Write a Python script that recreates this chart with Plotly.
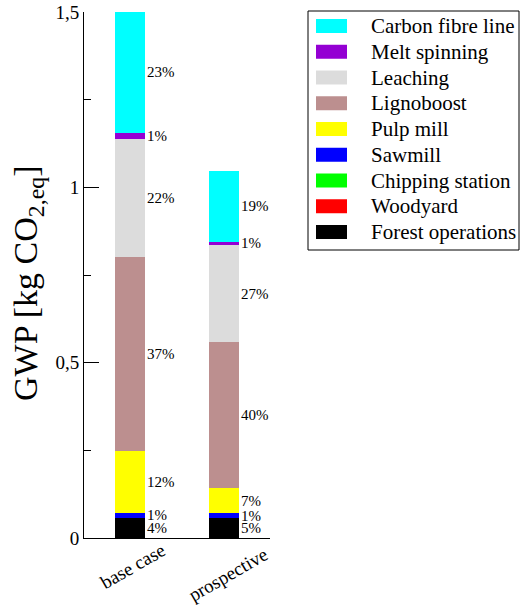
import plotly.graph_objects as go

# Global warming potential per process step, kg CO2-eq
cases = ["base case", "prospective"]
processes = ["Forest operations", "Woodyard", "Chipping station", "Sawmill",
             "Pulp mill", "Lignoboost", "Leaching", "Melt spinning", "Carbon fibre line"]
colors = ["#000000", "#FF0000", "#00FF00", "#0000FF",
          "#FFFF00", "#BC8F8F", "#DCDCDC", "#9400D3", "#00FFFF"]
base_case = [0.058, 0.0, 0.0, 0.014, 0.176, 0.553, 0.337, 0.017, 0.345]
prospective = [0.056, 0.0, 0.0, 0.014, 0.073, 0.415, 0.278, 0.009, 0.201]
y_ticks = [0, 0.5, 1, 1.5]
y_tick_text = ["0", "0,5", "1", "1,5"]

series = [base_case, prospective]
FONT = "Liberation Serif"
BAR_W = 0.32

fig = go.Figure()
for i, name in enumerate(processes):
    fig.add_trace(go.Bar(
        x=list(range(len(cases))), y=[s[i] for s in series], name=name,
        marker=dict(color=colors[i], line=dict(width=0)),
        width=BAR_W, showlegend=False,
    ))

# percentage share labels beside each segment
annotations = []
for ci, s in enumerate(series):
    total = sum(s)
    cum = 0.0
    for i, v in enumerate(s):
        if v > 0:
            pct = int(round(v / total * 100))
            annotations.append(dict(
                x=ci + BAR_W / 2, y=cum + v / 2, xref="x", yref="y",
                text=f"{pct}%", showarrow=False, xanchor="left", yanchor="middle",
                xshift=0, font=dict(family=FONT, size=15, color="#000"),
            ))
        cum += v

# pixel -> paper helpers for the plot frame
L, R, T, B = 84, 270, 12, 538
def px(x):
    return (x - L) / (R - L)
def py(y):
    return (B - y) / (B - T)

# slanted category labels under the bars
label_offsets = [(2, 566), (4, 574)]
for ci, name in enumerate(cases):
    dx, yc = label_offsets[ci]
    annotations.append(dict(
        x=ci, y=py(yc), xref="x", yref="paper", xshift=dx,
        text=name, textangle=-30, showarrow=False,
        xanchor="center", yanchor="middle",
        font=dict(family=FONT, size=19, color="#000"),
    ))

# y-axis title
annotations.append(dict(
    x=px(28), y=py(283), xref="paper", yref="paper",
    text="GWP [kg CO<sub>2,eq</sub>]", textangle=-90, showarrow=False,
    xanchor="center", yanchor="middle",
    font=dict(family=FONT, size=34, color="#000"),
))

# legend box, drawn top entry first
shapes = [dict(type="rect", xref="paper", yref="paper",
               x0=px(308), x1=px(519), y0=py(11), y1=py(250),
               line=dict(color="#000", width=1), fillcolor="white")]
legend_order = list(range(len(processes)))[::-1]
for row, i in enumerate(legend_order):
    yc = 26 + row * 25.75
    shapes.append(dict(type="rect", xref="paper", yref="paper",
                       x0=px(316), x1=px(347), y0=py(yc + 7), y1=py(yc - 7),
                       line=dict(width=0), fillcolor=colors[i]))
    annotations.append(dict(
        x=px(369), y=py(yc), xref="paper", yref="paper", text=processes[i],
        showarrow=False, xanchor="left", yanchor="middle",
        font=dict(family=FONT, size=21, color="#000"),
    ))

fig.update_layout(
    width=520, height=605,
    margin=dict(l=L, r=520 - R, t=T, b=605 - B, autoexpand=False),
    barmode="stack", bargap=0,
    plot_bgcolor="white", paper_bgcolor="white",
    separators=",.",
    font=dict(family=FONT, color="#000"),
    annotations=annotations, shapes=shapes,
    xaxis=dict(
        range=[-0.49, 1.49], showline=True, linecolor="#000", linewidth=1,
        showgrid=False, zeroline=False, ticks="", showticklabels=False,
        automargin=False,
    ),
    yaxis=dict(
        range=[0, 1.5], showline=True, linecolor="#000", linewidth=1,
        showgrid=False, zeroline=False, automargin=False,
        tickvals=y_ticks, ticktext=y_tick_text,
        ticks="inside", ticklen=15, tickcolor="#000", tickwidth=1,
        tickfont=dict(family=FONT, size=19, color="#000"),
        minor=dict(dtick=0.25, tick0=0, ticks="inside", ticklen=7,
                   tickcolor="#000", tickwidth=1, showgrid=False),
    ),
)

fig.write_html("out.html")
